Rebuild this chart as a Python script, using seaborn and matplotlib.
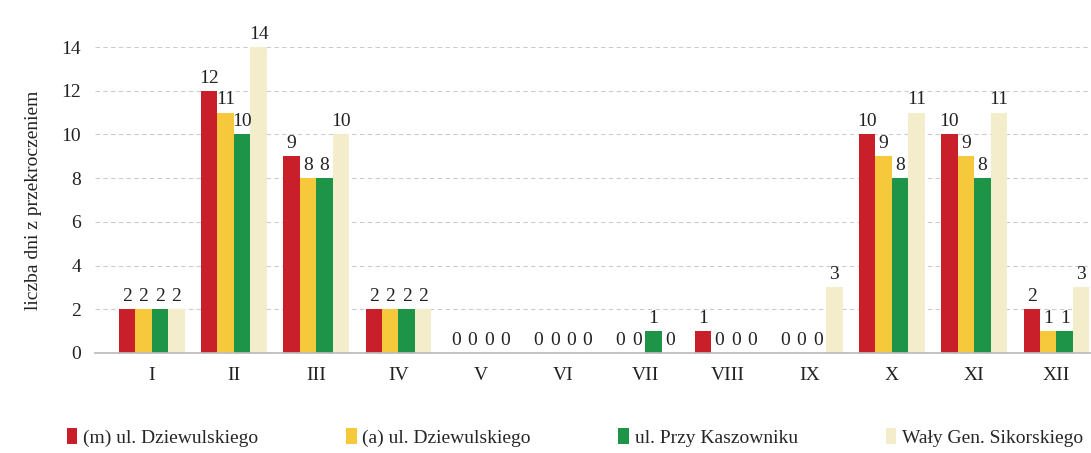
import numpy as np
import pandas as pd
import matplotlib
matplotlib.use("Agg")
import matplotlib.pyplot as plt
import seaborn as sns

# -----------------------------
# Data
# -----------------------------
months = ["I", "II", "III", "IV", "V", "VI", "VII", "VIII", "IX", "X", "XI", "XII"]
series_names = [
    "(m) ul. Dziewulskiego",
    "(a) ul. Dziewulskiego",
    "ul. Przy Kaszowniku",
    "Wały Gen. Sikorskiego",
]
m_dziewulskiego = [2, 12, 9, 2, 0, 0, 0, 1, 0, 10, 10, 2]
a_dziewulskiego = [2, 11, 8, 2, 0, 0, 0, 0, 0, 9, 9, 1]
przy_kaszowniku = [2, 10, 8, 2, 0, 0, 1, 0, 0, 8, 8, 1]
waly_sikorskiego = [2, 14, 10, 2, 0, 0, 0, 0, 3, 11, 11, 3]
colors = ["#c91f2b", "#f6c93c", "#1e9448", "#f4edcb"]

y_ticks = [0, 2, 4, 6, 8, 10, 12, 14]

# long-form table for seaborn
df = pd.DataFrame({
    "month": months * 4,
    "station": np.repeat(series_names, len(months)),
    "days": m_dziewulskiego + a_dziewulskiego + przy_kaszowniku + waly_sikorskiego,
})

# -----------------------------
# Plot
# -----------------------------
sns.set_theme(style="white")
plt.rcParams["font.family"] = ["Liberation Serif", "DejaVu Serif"]

fig = plt.figure(figsize=(10.91, 4.53), dpi=100)
ax = fig.add_axes([0.087, 0.221, 0.913, 0.675])

sns.barplot(
    data=df, x="month", y="days", hue="station",
    order=months, hue_order=series_names, palette=colors,
    width=0.8, saturation=1, edgecolor="none", ax=ax, legend=True,
)

for cont in ax.containers:
    labels = ax.bar_label(cont, fmt="%d", padding=3, fontsize=14, color="#222222")
    for t in labels:
        t.set_clip_on(False)

ax.set_ylim(0, 14)
ax.set_xlim(-0.69, 11.42)
ax.set_yticks(y_ticks)
ax.tick_params(axis="both", labelsize=14, colors="#222222", length=0, pad=10)
ax.set_xlabel("")
ax.set_ylabel("liczba dni z przekroczeniem", fontsize=14, color="#222222", labelpad=14)

ax.yaxis.grid(True, color="#cccccc", linestyle=(0, (4, 3)), linewidth=0.8)
ax.set_axisbelow(True)
for side in ["top", "right", "left"]:
    ax.spines[side].set_visible(False)
ax.spines["bottom"].set_color("#bbbbbb")

handles, lbls = ax.get_legend_handles_labels()
ax.legend(
    handles, lbls, loc="lower center", bbox_to_anchor=(0.527, -0.025),
    bbox_transform=fig.transFigure, ncol=4, frameon=False,
    fontsize=14, handlelength=0.55, handleheight=0.9, handletextpad=0.3,
    columnspacing=4.5,
)

fig.savefig("out.png", dpi=100)
